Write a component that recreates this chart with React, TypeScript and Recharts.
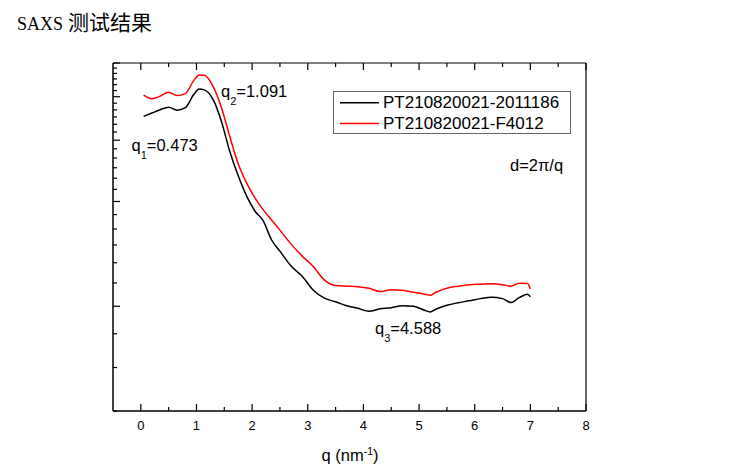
import React from 'react';
import { LineChart, Line, XAxis, YAxis, Legend } from 'recharts';

// q (nm^-1) sample positions
const qValues = [
    0.05, 0.2, 0.35, 0.5, 0.65, 0.8, 0.95, 1.05, 1.15, 1.3, 1.45, 1.6, 1.75, 1.9,
    2.05, 2.2, 2.35, 2.5, 2.7, 2.9, 3.1, 3.3, 3.5, 3.7, 3.9, 4.1, 4.3, 4.5, 4.7,
    4.9, 5.1, 5.2, 5.3, 5.5, 5.7, 5.9, 6.1, 6.3, 6.5, 6.65, 6.8, 6.95, 7.0
];

// intensity (arb. units, log axis)
const sample2011186 = [
    21.07, 21.54, 22.03, 22.4, 21.95, 22.32, 24.34, 25.24, 25.07, 23.54, 20.34, 16.67, 14.22, 12.45,
    11.27, 10.55, 9.3, 8.64, 7.83, 7.32, 6.67, 6.33, 6.18, 6.02, 5.92, 5.8, 5.9, 5.94, 6.02,
    6.0, 5.84, 5.78, 5.88, 6.04, 6.14, 6.22, 6.31, 6.37, 6.31, 6.15, 6.35, 6.5, 6.38
];

const sampleF4012 = [
    24.26, 23.7, 24.1, 24.71, 24.18, 24.5, 26.7, 27.7, 27.6, 25.66, 22.32, 18.41, 15.4, 13.57,
    12.29, 11.35, 10.62, 9.93, 9.05, 8.36, 7.8, 7.13, 6.88, 6.85, 6.83, 6.76, 6.61, 6.69, 6.67,
    6.58, 6.5, 6.45, 6.58, 6.76, 6.85, 6.92, 6.94, 6.96, 6.92, 6.85, 6.99, 6.97, 6.72
];

const seriesNames = ['PT210820021-2011186', 'PT210820021-F4012'];

const xTicks = [0, 0.5, 1, 1.5, 2, 2.5, 3, 3.5, 4, 4.5, 5, 5.5, 6, 6.5, 7, 7.5, 8];
const yTicks = [
    3, 4, 5, 6, 7, 8, 9, 10, 11, 12, 13, 14, 15, 16, 17, 18, 19, 20,
    21, 22, 23, 24, 25, 26, 27, 28, 29, 30
];
const yMajorTicks = [6, 12, 18, 24, 30];

const data = qValues.map((q, i) => ({
    q,
    a: sample2011186[i],
    b: sampleF4012[i],
}));

const FONT = '"Liberation Sans", Arial, sans-serif';

const BottomTick = ({ x, y, payload }: any) => {
    const v = payload.value;
    const major = Number.isInteger(v);
    return (
        <g>
            <line x1={x} x2={x} y1={y} y2={y - (major ? 7 : 4)} stroke="#000" strokeWidth={1.2} />
            {major && (
                <text x={x} y={y + 18.5} textAnchor="middle" fontSize={13} fontFamily={FONT} fill="#000">
                    {v}
                </text>
            )}
        </g>
    );
};

const TopTick = ({ x, y, payload }: any) => {
    const major = Number.isInteger(payload.value);
    return <line x1={x} x2={x} y1={y} y2={y + (major ? 7 : 4)} stroke="#000" strokeWidth={1.2} />;
};

const LeftTick = ({ x, y, payload }: any) => {
    const major = yMajorTicks.includes(payload.value);
    return <line x1={x} x2={x + (major ? 7 : 4)} y1={y} y2={y} stroke="#000" strokeWidth={1.2} />;
};

const LegendBox = ({ payload }: any) => (
    <svg width={238} height={43} style={{ display: 'block' }}>
        <rect x={0.5} y={0.5} width={237} height={42} fill="#fff" stroke="#666" />
        {(payload || []).map((p: any, i: number) => (
            <g key={`lg-${i}`}>
                <line x1={7} x2={46} y1={11.8 + i * 20.8} y2={11.8 + i * 20.8} stroke={p.color} strokeWidth={1.5} />
                <text x={50} y={16.5 + i * 21.5} fontSize={17} fontFamily={FONT} fill="#000">
                    {p.value}
                </text>
            </g>
        ))}
    </svg>
);

export default function App() {
    return (
        <div style={{ position: 'absolute', left: 0, top: 0, width: 729, height: 474, background: '#fff' }}>
            {/* axes need a non-zero size or they are not drawn, so margins are 1px short */}
            <LineChart width={729} height={474} data={data} margin={{ top: 62, right: 142, bottom: 33, left: 112 }}>
                <XAxis
                    type="number"
                    dataKey="q"
                    domain={[-0.5, 8]}
                    ticks={xTicks}
                    interval={0}
                    height={30}
                    tickSize={0}
                    tickMargin={0}
                    tick={<BottomTick />}
                    axisLine={{ stroke: '#000', strokeWidth: 1.5 }}
                    allowDataOverflow
                />
                <XAxis
                    xAxisId="top"
                    orientation="top"
                    type="number"
                    dataKey="q"
                    domain={[-0.5, 8]}
                    ticks={xTicks}
                    interval={0}
                    height={1}
                    tickSize={0}
                    tickMargin={0}
                    tick={<TopTick />}
                    axisLine={{ stroke: '#000', strokeWidth: 1.2 }}
                    allowDataOverflow
                />
                <YAxis
                    type="number"
                    scale="log"
                    domain={[3, 30]}
                    ticks={yTicks}
                    interval={0}
                    width={1}
                    tickSize={0}
                    tickMargin={0}
                    tick={<LeftTick />}
                    axisLine={{ stroke: '#000', strokeWidth: 1.5 }}
                    allowDataOverflow
                />
                <YAxis
                    yAxisId="right"
                    orientation="right"
                    type="number"
                    scale="log"
                    domain={[3, 30]}
                    width={1}
                    tick={false}
                    tickLine={false}
                    axisLine={{ stroke: '#000', strokeWidth: 1.2 }}
                    allowDataOverflow
                />
                <Legend
                    layout="horizontal"
                    verticalAlign="middle"
                    align="center"
                    content={<LegendBox />}
                    wrapperStyle={{ left: 333, top: 91, width: 238, height: 43 }}
                />
                <Line
                    type="monotone"
                    dataKey="a"
                    name={seriesNames[0]}
                    stroke="#000000"
                    strokeWidth={1.5}
                    dot={false}
                    isAnimationActive={false}
                />
                <Line
                    type="monotone"
                    dataKey="b"
                    name={seriesNames[1]}
                    stroke="#ff0000"
                    strokeWidth={1.5}
                    dot={false}
                    isAnimationActive={false}
                />
            </LineChart>

            {/* title, axis title and peak annotations */}
            <svg
                width={729}
                height={474}
                style={{ position: 'absolute', left: 0, top: 0, pointerEvents: 'none' }}
            >
                <text x={17} y={30} fill="#000">
                    <tspan fontFamily='"Liberation Serif", "DejaVu Serif", serif' fontSize={18}>SAXS</tspan>
                    <tspan x={68} fontFamily='"Noto Sans CJK SC", sans-serif' fontSize={21}>测试结果</tspan>
                </text>

                <g fontFamily={FONT} fill="#000">
                    <text x={221} y={96.5} fontSize={16.5}>
                        q<tspan fontSize={11} dy={8}>2</tspan>
                        <tspan dy={-8}>=1.091</tspan>
                    </text>
                    <text x={131.5} y={151} fontSize={16.5}>
                        q<tspan fontSize={11} dy={8}>1</tspan>
                        <tspan dy={-8}>=0.473</tspan>
                    </text>
                    <text x={375} y={334.3} fontSize={16.5}>
                        q<tspan fontSize={11} dy={8}>3</tspan>
                        <tspan dy={-8}>=4.588</tspan>
                    </text>
                    <text x={510} y={170.5} fontSize={16.5}>
                        d=2π/q
                    </text>
                    <text x={350} y={461} fontSize={16.5} textAnchor="middle">
                        q (nm<tspan fontSize={10.5} dy={-6}>-1</tspan>
                        <tspan dy={6}>)</tspan>
                    </text>
                </g>
            </svg>
        </div>
    );
}
